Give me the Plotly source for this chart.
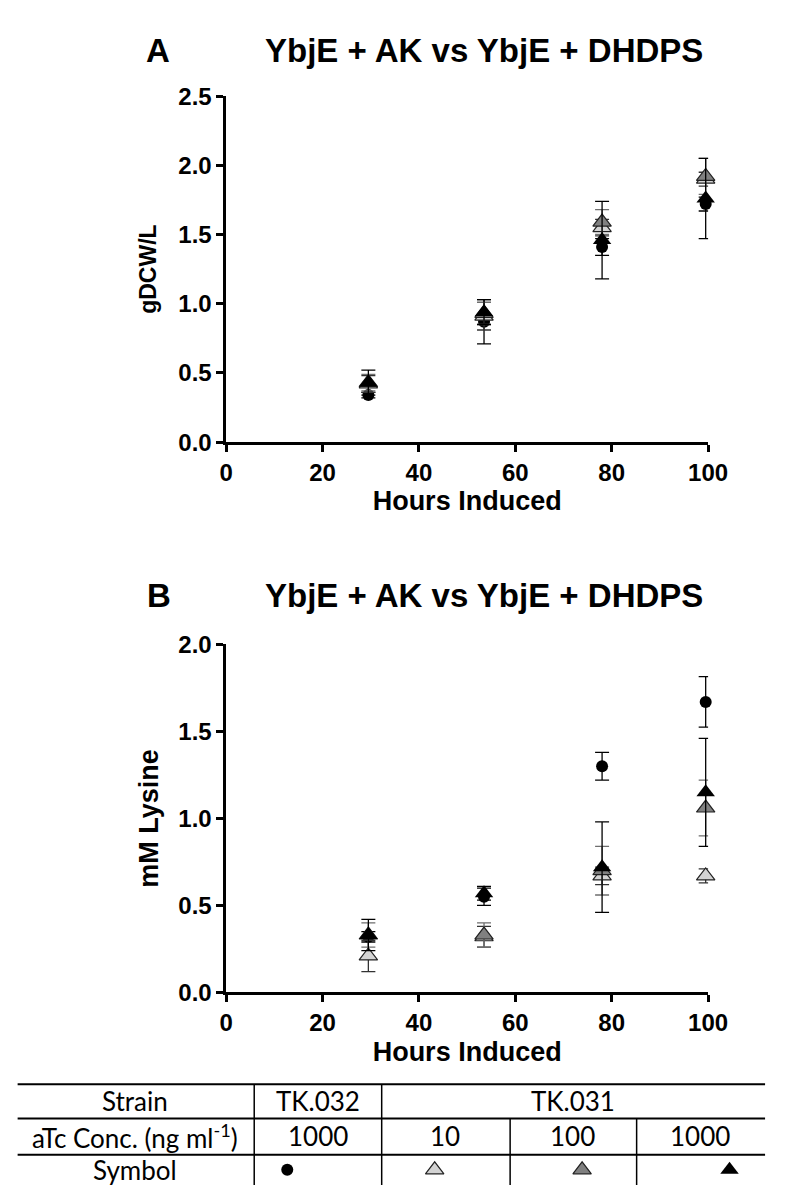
import plotly.graph_objects as go

# ---------------- data ----------------
hours = [29.5, 53.5, 78, 99.5]

series_names = ["TK.032 1000", "TK.031 10", "TK.031 100", "TK.031 1000"]

# Panel A: gDCW/L
dcw_mean = {
    "TK.032 1000": [0.34, 0.87, 1.41, 1.72],
    "TK.031 10":   [0.42, 0.91, 1.55, 1.90],
    "TK.031 100":  [0.43, 0.93, 1.59, 1.92],
    "TK.031 1000": [0.43, 0.94, 1.46, 1.76],
}
dcw_err = {
    "TK.032 1000": [0.02, 0.16, 0.06, 0.05],
    "TK.031 10":   [0.06, 0.10, 0.06, 0.05],
    "TK.031 100":  [0.06, 0.08, 0.09, 0.13],
    "TK.031 1000": [0.09, 0.09, 0.28, 0.29],
}

# Panel B: mM Lysine
lys_mean = {
    "TK.032 1000": [0.32, 0.55, 1.30, 1.67],
    "TK.031 10":   [0.21, 0.32, 0.67, 0.67],
    "TK.031 100":  [0.33, 0.33, 0.70, 1.06],
    "TK.031 1000": [0.33, 0.57, 0.72, 1.15],
}
lys_err = {
    "TK.032 1000": [0.03, 0.05, 0.08, 0.145],
    "TK.031 10":   [0.09, 0.06, 0.05, 0.04],
    "TK.031 100":  [0.07, 0.07, 0.14, 0.16],
    "TK.031 1000": [0.09, 0.04, 0.26, 0.31],
}

x_ticks = [0, 20, 40, 60, 80, 100]
ya_ticks = [0.0, 0.5, 1.0, 1.5, 2.0, 2.5]
yb_ticks = [0.0, 0.5, 1.0, 1.5, 2.0]

title_text = "YbjE + AK vs YbjE + DHDPS"

table_strain = ["TK.032", "TK.031"]
table_conc = ["1000", "10", "100", "1000"]

# ---------------- styles ----------------
styles = {
    "TK.032 1000": dict(symbol="circle", size=12, color="black", line=dict(color="black", width=0), err="black"),
    "TK.031 10":   dict(symbol="triangle-up", size=16, color="#d3d3d3", line=dict(color="#222222", width=1.2), err="#333333"),
    "TK.031 100":  dict(symbol="triangle-up", size=16, color="#808080", line=dict(color="#222222", width=1.2), err="#6e6e6e"),
    "TK.031 1000": dict(symbol="triangle-up", size=16, color="black", line=dict(color="black", width=0), err="black"),
}

W, H = 787, 1198
def px(v):  # x pixel -> paper
    return v / W
def py(v):  # y pixel -> paper
    return 1 - v / H

FONT = "Liberation Sans, Arial, sans-serif"
TFONT = "Lato, Noto Sans, sans-serif"

fig = go.Figure()

for name in series_names:
    st = styles[name]
    for xa, ya, means, errs in (("x", "y", dcw_mean, dcw_err), ("x2", "y2", lys_mean, lys_err)):
        fig.add_trace(go.Scatter(
            x=hours, y=means[name], mode="markers", name=name, showlegend=False,
            xaxis=xa, yaxis=ya, cliponaxis=False,
            marker=dict(symbol=st["symbol"], size=st["size"], color=st["color"], line=st["line"]),
            error_y=dict(type="data", array=errs[name], visible=True, color=st["err"],
                         thickness=1.3, width=7),
        ))

# table symbols
for name in series_names:
    st = styles[name]
    fig.add_trace(go.Scatter(
        x=[name], y=[0], mode="markers", showlegend=False, xaxis="x3", yaxis="y3",
        marker=dict(symbol=st["symbol"], size=12 if st["symbol"] == "circle" else 16,
                    color=st["color"], line=st["line"]),
        cliponaxis=False, hoverinfo="skip",
    ))

xdom = [px(227), px(726)]
axis_common = dict(
    showline=True, linecolor="black", linewidth=2.5, ticks="outside", ticklen=7,
    tickwidth=2.5, tickcolor="black", showgrid=False, zeroline=False,
    tickfont=dict(family=FONT, size=24, color="black", weight="bold"),
)
title_font = dict(family=FONT, size=27, color="black", weight="bold")
title_font_a = dict(family=FONT, size=23, color="black", weight="bold")

fig.update_layout(
    width=W, height=H, margin=dict(l=0, r=0, t=0, b=0),
    paper_bgcolor="white", plot_bgcolor="white",
    xaxis=dict(domain=xdom, range=[0, 100], tickvals=x_ticks, anchor="y",
               title=dict(text="Hours Induced", font=title_font, standoff=6), **axis_common),
    yaxis=dict(domain=[py(438), py(84)], range=[0, 2.5], tickvals=ya_ticks, tickformat=".1f",
               anchor="x", title=dict(text="gDCW/L", font=title_font_a, standoff=16), **axis_common),
    xaxis2=dict(domain=xdom, range=[0, 100], tickvals=x_ticks, anchor="y2",
                title=dict(text="Hours Induced", font=title_font, standoff=8), **axis_common),
    yaxis2=dict(domain=[py(1001), py(645)], range=[0, 2.0], tickvals=yb_ticks, tickformat=".1f",
                anchor="x2", title=dict(text="mM Lysine", font=title_font, standoff=12), **axis_common),
    xaxis3=dict(domain=[px(256), px(785)], type="category", categoryorder="array",
                categoryarray=series_names, visible=False, anchor="y3", fixedrange=True),
    yaxis3=dict(domain=[py(1195), py(1170)], range=[-1, 1], visible=False, anchor="x3", fixedrange=True),
)

ann = []
big = dict(family=FONT, size=33, color="black", weight="bold")
for ytitle in (37, 595):
    ann.append(dict(x=px(494), y=py(ytitle), xref="paper", yref="paper", text=title_text,
                    showarrow=False, font=big, xanchor="center", yanchor="middle"))
ann.append(dict(x=px(156), y=py(37), xref="paper", yref="paper", text="A", showarrow=False,
                font=big, xanchor="center", yanchor="middle"))
ann.append(dict(x=px(157), y=py(595), xref="paper", yref="paper", text="B", showarrow=False,
                font=big, xanchor="center", yanchor="middle"))

# table text
tf = dict(family=TFONT, size=26, color="black")
def cell(cx, cy, text):
    ann.append(dict(x=px(cx), y=py(cy), xref="paper", yref="paper", text=text, showarrow=False,
                    font=tf, xanchor="center", yanchor="middle"))
row_y = [1112, 1148, 1183]
cell(133, row_y[0], "Strain")
cell(322, row_y[0], table_strain[0])
cell(586, row_y[0], table_strain[1])
cell(133, row_y[1], "aTc Conc. (ng ml<sup>-1</sup>)")
for cx, t in zip([322, 454, 586, 718], table_conc):
    cell(cx, row_y[1], t)
cell(133, row_y[2], "Symbol")
fig.update_layout(annotations=ann)

# table lines
shapes = []
for yl in (1095, 1130, 1167):
    shapes.append(dict(type="line", xref="paper", yref="paper", x0=px(11), x1=px(785), y0=py(yl), y1=py(yl),
                       line=dict(color="black", width=2)))
for xl in (256, 388):
    shapes.append(dict(type="line", xref="paper", yref="paper", x0=px(xl), x1=px(xl), y0=py(1095), y1=py(1198),
                       line=dict(color="black", width=1.5)))
for xl in (521, 652):
    shapes.append(dict(type="line", xref="paper", yref="paper", x0=px(xl), x1=px(xl), y0=py(1130), y1=py(1198),
                       line=dict(color="black", width=1.5)))
fig.update_layout(shapes=shapes)

fig.write_html("out.html")

# remove default page margin so the figure fills the window exactly
with open("out.html", "r", encoding="utf-8") as f:
    html = f.read()
html = html.replace("<body>", '<body style="margin:0;padding:0;overflow:hidden">', 1)
with open("out.html", "w", encoding="utf-8") as f:
    f.write(html)
